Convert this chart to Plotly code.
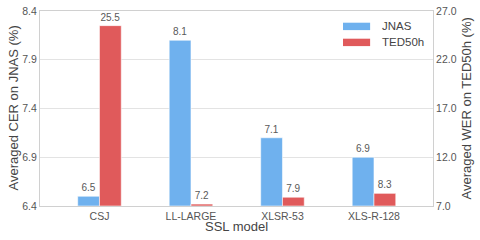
import plotly.graph_objects as go

categories = ["CSJ", "LL-LARGE", "XLSR-53", "XLS-R-128"]
jnas_cer = [6.5, 8.1, 7.1, 6.9]
ted_wer = [25.5, 7.2, 7.9, 8.3]
left_ticks = [6.4, 6.9, 7.4, 7.9, 8.4]
right_ticks = [7.0, 12.0, 17.0, 22.0, 27.0]

BLUE = "#6fb1ee"
RED = "#e05a5b"
W = 0.238
xs = list(range(len(categories)))

fig = go.Figure()
fig.add_trace(go.Bar(
    x=[x - W / 2 for x in xs], y=[v - left_ticks[0] for v in jnas_cer], base=left_ticks[0],
    width=W, marker=dict(color=BLUE, line=dict(color="rgba(255,255,255,0.7)", width=0.8)),
    text=[f"{v:.1f}" for v in jnas_cer], textposition="outside",
    textfont=dict(size=10, color="#595959"), cliponaxis=False, name="JNAS",
    yaxis="y", showlegend=False,
))
fig.add_trace(go.Bar(
    x=[x + W / 2 for x in xs], y=[v - right_ticks[0] for v in ted_wer], base=right_ticks[0],
    width=W, marker=dict(color=RED, line=dict(color="rgba(255,255,255,0.7)", width=0.8)),
    text=[f"{v:.1f}" for v in ted_wer], textposition="outside",
    textfont=dict(size=10, color="#595959"), cliponaxis=False, name="TED50h",
    yaxis="y2", showlegend=False,
))

font_family = "Liberation Sans, Arial, sans-serif"
fig.update_layout(
    width=480, height=240,
    margin=dict(l=40, r=47, t=11, b=34, autoexpand=False),
    paper_bgcolor="white", plot_bgcolor="white",
    font=dict(family=font_family, color="#555555"),
    barmode="overlay",
    xaxis=dict(
        range=[-0.65, 3.645], tickvals=xs, ticktext=categories,
        tickfont=dict(size=10.5, color="#555555"),
        showgrid=False, zeroline=False, ticks="", ticklen=0,
        showline=True, linecolor="#d0d0d0", linewidth=1, mirror=True,
    ),
    yaxis=dict(
        range=[left_ticks[0], left_ticks[-1]], tickvals=left_ticks,
        ticktext=[f"{t:.1f}" for t in left_ticks],
        tickfont=dict(size=10.5, color="#555555"),
        showgrid=True, gridcolor="#e3e3e3", gridwidth=1, zeroline=False,
        ticks="", showline=True, linecolor="#d0d0d0", linewidth=1,
    ),
    yaxis2=dict(
        range=[right_ticks[0], right_ticks[-1]], tickvals=right_ticks,
        ticktext=[f"{t:.1f}" for t in right_ticks],
        tickfont=dict(size=10.5, color="#555555"),
        overlaying="y", side="right", showgrid=False, zeroline=False,
        ticks="", showline=True, linecolor="#d0d0d0", linewidth=1,
    ),
)

title_font = dict(size=13, color="#444444", family=font_family)
# axis titles placed as annotations (pixel-precise positions)
fig.add_annotation(xref="paper", yref="paper", x=0.5, y=0, yshift=-20,
                   text="SSL model", showarrow=False, xanchor="center", yanchor="middle",
                   font=title_font)
fig.add_annotation(xref="paper", yref="paper", x=0, xshift=-27, y=0.5,
                   text="Averaged CER on JNAS (%)", showarrow=False, textangle=-90,
                   xanchor="center", yanchor="middle", font=title_font)
fig.add_annotation(xref="paper", yref="paper", x=1, xshift=33, y=0.5,
                   text="Averaged WER on TED50h (%)", showarrow=False, textangle=-90,
                   xanchor="center", yanchor="middle", font=title_font)

# legend drawn manually (wide flat patches)
legend_items = [("JNAS", BLUE, 0.921), ("TED50h", RED, 0.839)]
for name, col, yc in legend_items:
    fig.add_shape(type="rect", xref="paper", yref="paper",
                  x0=0.771, x1=0.84, y0=yc - 0.019, y1=yc + 0.019,
                  fillcolor=col, line=dict(width=0))
    fig.add_annotation(xref="paper", yref="paper", x=0.865, y=yc, text=name,
                       showarrow=False, xanchor="left", yanchor="middle",
                       font=dict(size=11.5, color="#444444"))

fig.write_html("out.html", config={"displayModeBar": False},
               post_script="document.body.style.margin='0';")
